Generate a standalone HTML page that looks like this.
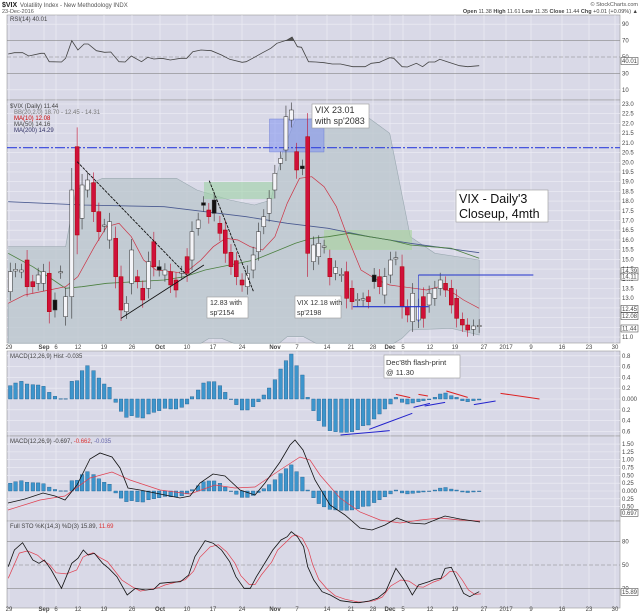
<!DOCTYPE html>
<html><head><meta charset="utf-8"><style>
body{margin:0;background:#fff;width:640px;height:614px;overflow:hidden;font-family:"Liberation Sans",sans-serif}
svg{display:block}
text{font-family:"Liberation Sans",sans-serif}
.ax{font-size:6px;fill:#444}
.lg{font-size:6px;fill:#444}
.bx{font-size:9px;fill:#333}
</style></head><body>
<svg id="s" width="640" height="614" viewBox="0 0 640 614" xmlns="http://www.w3.org/2000/svg">
<rect width="640" height="614" fill="#fff"/>
<g id="panels"></g>
<g id="grid"></g>
<g id="main"></g>
<text x="2" y="7" style="font-size:7px;font-weight:bold" fill="#222">$VIX</text>
<text x="20" y="7" style="font-size:6px" fill="#555">Volatility Index - New Methodology INDX</text>
<text x="2" y="13" style="font-size:5.5px" fill="#555">23-Dec-2016</text>
<text x="638" y="6" text-anchor="end" style="font-size:5.5px" fill="#555">© StockCharts.com</text>
<text x="638" y="13" text-anchor="end" style="font-size:5.5px" fill="#444"><tspan font-weight="bold">Open</tspan> 11.38 <tspan font-weight="bold">High</tspan> 11.61 <tspan font-weight="bold">Low</tspan> 11.35 <tspan font-weight="bold">Close</tspan> 11.44 <tspan font-weight="bold">Chg</tspan> +0.01 (+0.09%) ▲</text>
<text x="10" y="21" class="lg">RSI(14) 40.01</text>
<g class="lg"><text x="10" y="108">$VIX (Daily) 11.44</text>
<text x="14" y="114" fill="#777">BB(20,2.0) 18.70 - 12.45 - 14.31</text>
<text x="14" y="120" fill="#c00">MA(10) 12.08</text>
<text x="14" y="126">MA(50) 14.16</text>
<text x="14" y="132" fill="#336">MA(200) 14.29</text>
<text x="10" y="358">MACD(12,26,9) Hist -0.035</text>
<text x="10" y="443">MACD(12,26,9) -0.697, <tspan fill="#d33">-0.662</tspan>, <tspan fill="#66a">-0.035</tspan></text>
<text x="10" y="528">Full STO %K(14,3) %D(3) 15.89, <tspan fill="#d33">11.69</tspan></text></g>
<rect x="312" y="104" width="57" height="24" fill="#fff" stroke="#999" stroke-width=".6"/>
<text x="315" y="113" class="bx">VIX 23.01</text><text x="315" y="124" class="bx">with sp'2083</text>
<rect x="456" y="190" width="92" height="32" fill="#fff" stroke="#999" stroke-width=".6"/>
<text x="459" y="203" style="font-size:12.5px" fill="#111">VIX - Daily'3</text><text x="459" y="218" style="font-size:12.5px" fill="#111">Closeup, 4mth</text>
<rect x="207" y="297" width="41" height="21" fill="#fff" stroke="#999" stroke-width=".6"/>
<text x="210" y="305" style="font-size:7px" fill="#333">12.83 with</text><text x="210" y="315" style="font-size:7px" fill="#333">sp'2154</text>
<rect x="295" y="296" width="46" height="22" fill="#fff" stroke="#999" stroke-width=".6"/>
<text x="297" y="305" style="font-size:7px" fill="#333">VIX 12.18 with</text><text x="297" y="315" style="font-size:7px" fill="#333">sp'2198</text>
<rect x="384" y="355" width="76" height="23" fill="#fff" stroke="#999" stroke-width=".6"/>
<text x="386" y="365" style="font-size:7.5px" fill="#333">Dec'8th flash-print</text><text x="386" y="375" style="font-size:7.5px" fill="#333">@ 11.30</text>
<g id="axes" class="ax"></g>
</svg>
<script>
const NS="http://www.w3.org/2000/svg";
function el(g,t,a){const e=document.createElementNS(NS,t);for(const k in a)e.setAttribute(k,a[k]);document.getElementById(g).appendChild(e);return e;}
const X=x=>x/2.4375;
const L=7,R=620;
// panels
const P=[[15,100],[100,343],[351,436],[436,521],[521,608]];
P.forEach(p=>el("panels","rect",{x:L,y:p[0],width:R-L,height:p[1]-p[0],fill:"#d9d9e7",stroke:"#999","stroke-width":.6}));
// vertical grid
const dates=[[9,"29"],[44,"Sep"],[56,"6"],[78,"12"],[104,"19"],[132,"26"],[160,"Oct"],[187,"10"],[213,"17"],[242,"24"],[275,"Nov"],[297,"7"],[327,"14"],[351,"21"],[373,"28"],[390,"Dec"],[403,"5"],[430,"12"],[455,"19"],[484,"27"],[506,"2017"],[531,"9"],[562,"16"],[589,"23"],[615,"30"]];
dates.forEach(d=>{P.forEach(p=>el("grid","line",{x1:d[0],x2:d[0],y1:p[0],y2:p[1],stroke:"#eeeef6","stroke-width":.6}));
 [349,611].forEach(y=>{const t=el("axes","text",{x:d[0],y:y,"text-anchor":"middle"});t.textContent=d[1];if(isNaN(+d[1]))t.setAttribute("font-weight","bold");});});
function hl(y,lab,dash,col){el("grid","line",{x1:L,x2:R,y1:y,y2:y,stroke:col||"#eeeef6","stroke-width":dash?.6:.6,"stroke-dasharray":dash||""});if(lab!==null){const t=el("axes","text",{x:R+2,y:y+2});t.textContent=lab;}}
// RSI
const ry=v=>57-(v-50)*0.82;
[90,10].forEach(v=>hl(ry(v),v));[70,30].forEach(v=>hl(ry(v),v,null,"#888"));hl(ry(50),"50","4,2","#888");
// main
const my=v=>104+(23-v)*19.42;
for(let v=11;v<=23;v+=0.5)hl(my(v),v.toFixed(1));
// macd hist
const hy=v=>399-v*54;[0.8,0.6,0.4,0.2,-0.2,-0.4,-0.6].forEach(v=>hl(hy(v),Math.abs(v).toFixed(1)));hl(399,"0.000");
const my2=v=>491-v*31.3;[1.5,1.25,1,.75,.5,.25,-.25,-.5].forEach(v=>hl(my2(v),Math.abs(v).toFixed(2)));hl(491,"0.000");
const sy=v=>565-(v-50)*0.79;[80,20].forEach(v=>hl(sy(v),v,null,"#888"));hl(sy(50),"50","4,2","#888");
function pl(g,pts,col,w,zy,oy,extra){const s=pts.map(p=>X(p[0]).toFixed(1)+","+(oy+p[1]/zy).toFixed(1)).join(" ");return el(g,"polyline",Object.assign({points:s,fill:"none",stroke:col,"stroke-width":w},extra||{}));}
// RSI line
const rsi=[[20,162],[35,158],[55,158],[70,168],[100,160],[108,160],[120,185],[150,186],[160,175],[175,122],[190,150],[205,132],[215,132],[235,152],[255,157],[270,156],[290,185],[305,186],[320,168],[345,185],[360,172],[375,177],[395,175],[415,180],[440,175],[455,175],[470,155],[490,150],[515,152],[540,165],[560,178],[590,187],[600,185],[620,172],[640,158],[660,145],[675,130],[700,120],[712,111],[725,140],[735,142],[752,185],[770,186],[790,188],[810,192],[830,192],[860,200],[890,200],[905,190],[925,187],[950,173],[960,175],[980,200],[993,201],[1015,190],[1030,200],[1045,186],[1060,186],[1072,178],[1090,185],[1120,197],[1140,200],[1168,197]];
el("main","polygon",{points:`${X(690)},41 ${X(700)},40 ${X(712)},37 ${X(718)},41`,fill:"#555"});
pl("main",rsi,"#444",.8,3,0);
el("axes","rect",{x:621,y:57.5,width:17,height:7,fill:"#fff",stroke:"#333","stroke-width":.5});
{const t=el("axes","text",{x:622,y:63});t.textContent="40.01";}
// BB
const up=[[20,470],[160,470],[185,300],[250,265],[430,265],[480,300],[560,330],[620,345],[660,330],[690,180],[720,90],[780,85],[900,85],[950,130],[1000,440],[1060,490],[1168,510]];
const lo=[[1168,735],[1100,715],[1000,720],[980,745],[960,760],[770,760],[740,740],[700,740],[680,760],[570,760],[540,745],[510,745],[490,760],[20,760],[20,640]];
pl("main",up.concat(lo),"#9aa8b0",.6,3,90,{fill:"#b9c6cc","fill-opacity":.75});
// rects
el("main","rect",{x:269.5,y:119,width:54.5,height:33,fill:"#7f92f0","fill-opacity":.55,stroke:"#6070d0","stroke-width":.4});
el("main","rect",{x:204,y:182,width:70,height:17,fill:"#9ed2a6","fill-opacity":.6});
el("main","rect",{x:324,y:230,width:88,height:20,fill:"#a8d49c","fill-opacity":.6});
el("main","line",{x1:L,x2:R,y1:147.7,y2:147.7,stroke:"#3344dd","stroke-width":1.2,"stroke-dasharray":"10,2,2,2"});
// MAs
pl("main",[[20,335],[200,345],[400,350],[500,365],[600,380],[700,400],[800,415],[900,440],[1000,460],[1168,488]],"#4a5a90",.8,3,90);
pl("main",[[20,490],[80,530],[130,570],[160,595],[200,590],[260,580],[330,575],[400,570],[450,560],[500,540],[560,525],[620,510],[680,480],[720,460],[760,445],[800,440],[850,430],[900,440],[950,450],[1000,465],[1050,470],[1100,475],[1168,505]],"#4c8040",.8,3,90);
pl("main",[[20,640],[60,615],[120,600],[160,590],[190,560],[230,470],[260,410],[290,400],[320,440],[350,510],[380,540],[420,545],[450,550],[490,510],[520,470],[550,445],[580,450],[610,470],[640,480],[670,440],[700,340],[730,265],[760,260],[790,290],[820,350],[850,450],[880,540],[920,570],[950,585],[980,590],[1010,595],[1040,600],[1070,590],[1100,605],[1130,630],[1168,655]],"#cc3344",.7,3,90);
// candles [x, top, bottom, type] h=hollow r=red b=black s=small
const C=[[25,545,605,'h'],[38,538,543,'s'],[52,540,546,'h'],[66,510,590,'r'],[80,575,590,'r'],[93,555,580,'h'],[106,545,580,'h'],[120,550,665,'r'],[134,630,660,'b'],[148,545,548,'s'],[160,620,680,'h'],[175,300,620,'h'],[188,170,435,'r'],[200,285,385,'h'],[213,270,300,'h'],[228,278,365,'r'],[241,365,425,'r'],[254,405,408,'s'],[267,395,450,'h'],[282,445,560,'r'],[295,560,660,'r'],[308,640,665,'h'],[321,480,580,'h'],[335,560,575,'r'],[348,595,630,'r'],[362,515,595,'h'],[375,455,530,'r'],[388,530,540,'b'],[402,540,555,'h'],[416,545,585,'r'],[429,570,600,'r'],[443,546,550,'s'],[456,500,550,'r'],[468,425,510,'h'],[483,390,415,'h'],[496,338,346,'b'],[509,360,380,'r'],[522,330,370,'b'],[536,400,430,'r'],[549,420,490,'r'],[563,487,530,'r'],[576,512,560,'r'],[590,570,585,'r'],[603,550,590,'h'],[617,495,540,'h'],[630,425,485,'h'],[643,380,410,'h'],[656,325,370,'h'],[670,250,300,'h'],[684,205,220,'h'],[697,80,180,'h'],[710,60,90,'h'],[723,185,240,'r'],[737,228,236,'b'],[750,140,490,'r'],[764,465,515,'h'],[777,460,500,'h'],[790,468,472,'s'],[804,505,560,'r'],[818,532,550,'h'],[832,553,557,'s'],[845,545,625,'r'],[858,595,635,'r'],[872,628,632,'s'],[885,626,630,'s'],[898,620,635,'r'],[912,555,575,'b'],[925,560,590,'r'],[938,560,615,'h'],[952,510,555,'h'],[965,503,507,'s'],[980,530,650,'r'],[993,650,675,'r'],[1006,610,695,'h'],[1020,650,690,'h'],[1032,620,685,'r'],[1046,610,645,'h'],[1060,595,625,'h'],[1073,570,595,'h'],[1086,580,600,'r'],[1100,595,645,'r'],[1113,625,685,'r'],[1127,688,705,'r'],[1140,705,720,'r'],[1154,708,718,'h'],[1168,706,710,'s']];
C.forEach(c=>{const x=X(c[0]),t=90+c[1]/3,b=90+c[2]/3,h=b-t;
 el("main","line",{x1:x,x2:x,y1:t-6-h*0.15,y2:b+6+h*0.15,stroke:c[3]=='r'?"#c01030":"#333","stroke-width":.6});
 const col=c[3]=='r'?"#d0103a":c[3]=='b'?"#111":"#f4f4f8";
 el("main","rect",{x:x-2,y:t,width:4,height:Math.max(h,1.2),fill:col,stroke:c[3]=='r'?"#a00":"#333","stroke-width":.5});});
// trend lines
[[188,215,455,555],[295,685,497,525],[510,272,618,605]].forEach(l=>el("main","line",{x1:X(l[0]),y1:90+l[1]/3,x2:X(l[2]),y2:90+l[3]/3,stroke:"#111","stroke-width":.9,"stroke-dasharray":l[0]==295?"":"3,1"}));
el("main","line",{x1:X(1020),x2:X(1300),y1:275,y2:275,stroke:"#2233cc","stroke-width":1});
el("main","line",{x1:X(1020),x2:X(1020),y1:275,y2:322,stroke:"#2233cc","stroke-width":.6});
el("main","line",{x1:X(860),x2:X(1045),y1:306.7,y2:306.7,stroke:"#2233cc","stroke-width":1.2});
// right price labels boxed
[[14.39,"14.39"],[14.11,"14.11"],[12.45,"12.45"],[12.08,"12.08"],[11.44,"11.44"]].forEach(p=>{el("axes","rect",{x:621,y:my(p[0])-3.5,width:17,height:7,fill:"#fff",stroke:"#333","stroke-width":.5});const t=el("axes","text",{x:622,y:my(p[0])+2});t.textContent=p[1];});
// histogram
const H=[40,48,53,45,43,42,38,20,8,1,1,53,55,85,100,85,63,45,35,-10,-37,-55,-50,-55,-57,-45,-40,-35,-28,-30,-30,-25,-15,7,27,48,52,52,40,20,0,-17,-33,-33,-23,-8,12,33,58,90,115,135,100,72,5,-35,-65,-82,-95,-98,-100,-100,-98,-92,-80,-78,-60,-45,-30,-15,5,-10,-15,-12,-8,-5,-2,5,15,18,10,5,-5,-8,-5,-3];
C.forEach((c,i)=>{const x=X(c[0]),v=H[i]/3;
 el("main","rect",{x:x-1.8,y:v>0?399-v:399,width:3.6,height:Math.max(Math.abs(v),.5),fill:"#3d95cc",stroke:"#1f5f8f","stroke-width":.4});
 const v2=v*0.58;el("main","rect",{x:x-1.8,y:v2>0?491-v2:491,width:3.6,height:Math.max(Math.abs(v2),.5),fill:"#3d95cc",stroke:"#1f5f8f","stroke-width":.4});});
// MACD hist annotations
[[965,193,1000,203,"#d22"],[1020,193,1043,198,"#d22"],[1088,183,1140,202,"#d22"],[1220,190,1315,207,"#d22"],[830,315,950,302,"#22c"],[900,298,1005,250,"#22c"],[1008,232,1048,220,"#22c"],[1035,228,1085,217,"#22c"],[1155,224,1208,213,"#22c"]].forEach(l=>el("main","line",{x1:X(l[0]),y1:330+l[1]/3,x2:X(l[2]),y2:330+l[3]/3,stroke:l[4],"stroke-width":1}));
// MACD lines (orig coords)
function po(pts,col,w){el("main","polyline",{points:pts.map(p=>p.join(",")).join(" "),fill:"none",stroke:col,"stroke-width":w});}
po([[8,510],[40,500],[65,496],[90,478],[112,472],[130,480],[160,490],[190,494],[215,485],[235,488],[255,487],[280,470],[300,457],[310,460],[320,475],[340,498],[360,512],[380,520],[400,523],[420,520],[440,518],[460,520],[480,521]],"#e04050",.7);
po([[8,503],[25,499],[43,493],[55,496],[65,500],[77,485],[90,459],[100,453],[112,457],[120,468],[128,488],[140,490],[160,494],[180,498],[190,496],[200,483],[213,474],[225,476],[240,490],[255,495],[265,483],[280,462],[290,445],[295,440],[303,450],[315,480],[330,505],[345,515],[360,528],[372,530],[385,525],[397,518],[410,523],[425,524],[445,516],[460,519],[480,522]],"#111",.8);
// STO
const K=[[20,290],[35,240],[55,218],[80,270],[95,280],[108,270],[125,300],[150,355],[175,280],[190,265],[203,240],[215,255],[230,250],[250,280],[265,295],[285,320],[310,375],[330,355],[355,360],[375,358],[390,340],[415,337],[440,335],[460,315],[475,260],[500,212],[520,220],[540,240],[560,275],[575,320],[595,355],[610,355],[625,320],[650,270],[665,240],[685,210],[700,200],[710,185],[725,200],[740,230],[750,290],[765,330],[785,365],[805,375],[830,392],[860,397],[875,398],[900,393],[920,385],[940,365],[965,295],[985,330],[1005,375],[1020,345],[1045,335],[1060,328],[1075,325],[1085,295],[1100,292],[1115,330],[1130,370],[1145,380],[1160,370],[1168,365]];
const D=K.map((p,i)=>{const a=K[Math.max(i-1,0)][1],b=p[1],c=K[Math.min(i+1,K.length-1)][1];return [p[0]+12,(a+b+c)/3+(i==K.length-1?10:0)];});
D[0]=[20,325];D.pop();D.push([1168,372]);
pl("main",D,"#e04050",.7,3,470);pl("main",K,"#111",.8,3,470);
[[-0.697,"-0.697"]].forEach(p=>{el("axes","rect",{x:621,y:my2(p[0])-3.5,width:17,height:7,fill:"#fff",stroke:"#333","stroke-width":.5});const t=el("axes","text",{x:622,y:my2(p[0])+2});t.textContent="0.697";});
el("axes","rect",{x:621,y:sy(15.9)-3.5,width:17,height:7,fill:"#fff",stroke:"#333","stroke-width":.5});
{const t=el("axes","text",{x:622,y:sy(15.9)+2});t.textContent="15.89";}
</script>
</body></html>
